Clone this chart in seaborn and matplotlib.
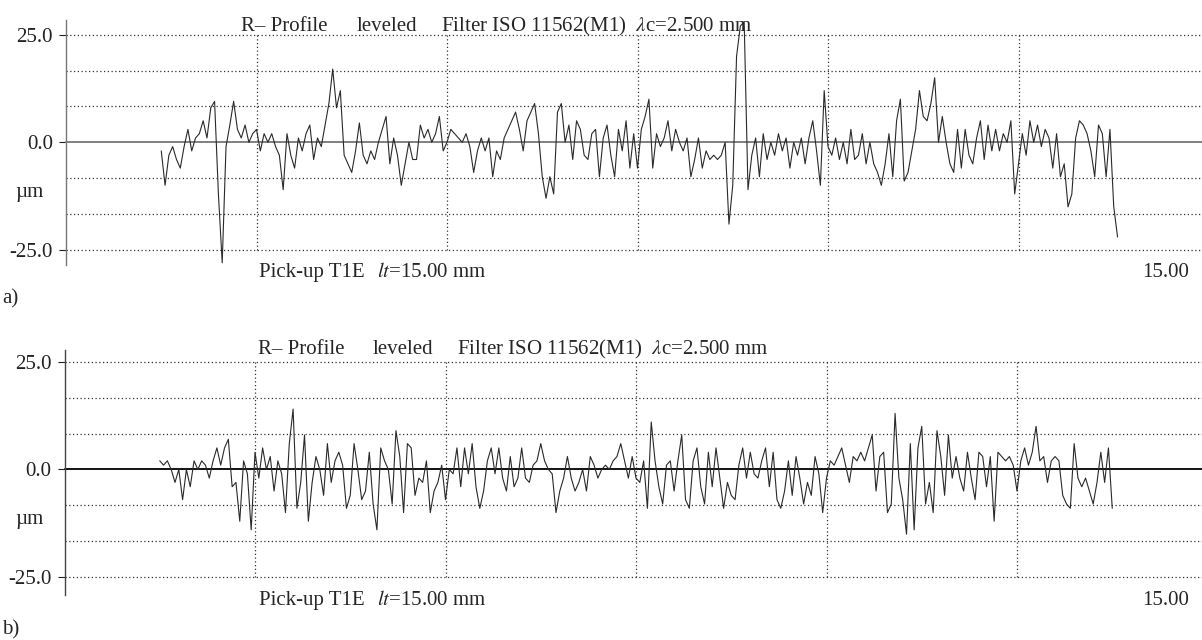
import numpy as np
import matplotlib.pyplot as plt
import seaborn as sns

# R-profile heights in micrometres, sampled every 0.05 mm from 1.25 mm
profile_a = [
    -2, -10, -3, -1, -4, -6, -1, 3, -2, 1,
    2, 5, 1, 8, 9.5, -12, -28, -1, 4, 9.5,
    3, 1, 4, 0, 2, 3, -2, 2, 0, 2,
    -1, -3, -11, 2, -3, -6, 1, -2, 2, 4,
    -4, 1, -1, 4, 9, 17, 8, 12, -3, -5,
    -7, -2, 4.5, -3, -5, -2, -4, 0, 3, 6,
    -5, 1, -3, -10, -5, 0, -4, -4, 4, 1,
    3, 0, 2, 6, -2, 0, 3, 2, 1, 0,
    2, -1, -7, -2, 1, -2, 1, -8, -2, -4,
    1, 3, 5, 7, 3, -2, 5, 7, 9, 2,
    -8, -13, -8, -12, 7, 9, 0, 4, -4, 5,
    3, -3, -4, 2, 3, -8, 1, 4, -3, -8,
    3, -2, 5, -6, 2, -6, 3, 6, 10, -6,
    2, -1, 1, 5, -2, 3, 0, -2, 1, -8,
    -4, 1, -6, -2, -4, -3, -4, -3, 0, -19,
    -10, 20, 27, 28, -11, -3, 1, -8, 2, -4,
    0, -3, 2, -2, 1, -6, 0, -3, 1, -5,
    1, 5, -2, -10, 12, -1, -3, 1, -4, 0,
    -5, 3, -4, -3, 2, -5, 0, -5, -7, -10,
    -5, 2, -8, 5, 10, -9, -7, -2, 3, 12,
    6, 5, 9, 15, 0, 6, 0, -5, -7, 3,
    -6, 3, -3, -5, 1, 5, -4, 4, -2, 3,
    -2, 2, 0, 5, -12, -5, 2, -3, 5, 0,
    4, -1, 3, 1, -6, 2, -8, -5, -15, -12,
    1, 5, 4, 2, -2, -8, 4, 2, -8, 3,
    -15, -22,
]

profile_b = [
    2, 1, 2, 0, -3, 0, -7, 0, -4, 2,
    0, 2, 1, -2, 2, 5, 1, 5, 7, -4,
    -3, -12, 2, -1, -14, 4, -2, 5, 0, 3,
    -5, 2, -1, -10, 6, 14, -9, -3, 8, -12,
    -3, 3, 0, -6, 6, -3, 2, 4, 1, -9,
    -6, 6, 0, -7, -5, 4, -8, -14, 5, 2,
    0, -8, 9, 3, -10, 6, 5, -6, -2, -3,
    2, -10, -5, -3, 1, -7, 0, -1, 5, -4,
    5, -1, 6, -4, -9, -5, 2, 5, -1, 5,
    -2, -5, 3, -4, -2, 5, -2, -3, 1, 2,
    6, 2, 0, -1, -10, -5, -2, 3, -2, -5,
    -3, 0, -5, 3, 1, -2, 0, 1, 0, 2,
    3, 6, 2, -2, 3, -2, -3, 2, -9, 11,
    2, -4, -8, 1, 2, -5, 2, 8, -7, -9,
    2, 5, -4, -8, 4, -4, 5, -2, -9, -3,
    -6, -7, 1, 5, -2, 4, -1, -2, 2, 5,
    -4, 4, -7, -9, -5, 2, -6, 3, -2, -8,
    -3, -6, 3, -1, -10, -2, 2, 1, 3, 5,
    1, -3, 3, 2, 4, 2, 5, 8, -5, 3,
    4, -10, -8, 13, -2, -7, -15, 6, -14, 5,
    10, -8, -3, -10, 9, 3, -6, 8, -2, 3,
    -2, -5, 4, -2, -7, 4, 3, -4, 3, -12,
    4, 3, 2, 3, 1, -5, 2, 5, 1, 4,
    10, 2, 3, -3, 2, 3, 2, -6, -8, -9,
    6, -2, -4, -2, -5, -8, -3, 4, -3, 5,
    -9,
]

x_start = 1.25
x_step = 0.05
length_mm = 15.0
y_ticks = [-25.0, 0.0, 25.0]
grid_x = [2.5, 5.0, 7.5, 10.0, 12.5]
grid_y = [-25.0, -50 / 3, -25 / 3, 25 / 3, 50 / 3, 25.0]

sns.set_style("white")
plt.rcParams['font.family'] = ['Liberation Serif', 'DejaVu Serif']
plt.rcParams['mathtext.fontset'] = 'stix'

W, H = 1202, 640
FS = 15
fig = plt.figure(figsize=(W / 100, H / 100), dpi=100)


def ftext(px, py, s, **kw):
    fig.text(px / W, 1 - py / H, s, fontsize=FS, va='baseline', **kw)


def draw_panel(left_px, top_px, ylim, values, line_col, zero_col, spine_col):
    ax = fig.add_axes([left_px / W, 1 - (top_px + 245) / H,
                       length_mm * 76.2 / W, 245 / H])
    x = x_start + x_step * np.arange(len(values))
    # grid: dotted, limited to the +-25 band vertically
    ax.hlines(grid_y, 0, length_mm, colors='#333333', linestyles=(0, (1, 2)),
              linewidth=0.9, zorder=1)
    ax.vlines(grid_x, -25, 25, colors='#333333', linestyles=(0, (1, 2)),
              linewidth=0.9, zorder=1)
    ax.axhline(0, color=zero_col, linewidth=1.4, zorder=2)
    sns.lineplot(x=x, y=values, ax=ax, color=line_col, linewidth=0.8,
                 errorbar=None, sort=False, zorder=3)
    for ln in ax.lines:
        ln.set_clip_on(False)
    ax.set_xlim(0, length_mm)
    ax.set_ylim(*ylim)
    ax.set_yticks(y_ticks)
    ax.set_yticklabels(['-25.0', '0.0', '25.0'], fontsize=FS)
    ax.set_xticks([])
    ax.tick_params(axis='y', direction='out', length=5, width=0.8,
                   pad=4.5, colors='#222222', left=True)
    for side in ['top', 'right', 'bottom']:
        ax.spines[side].set_visible(False)
    ax.spines['left'].set_color(spine_col)
    ax.spines['left'].set_linewidth(1.0)
    ax.set_xlabel('')
    ax.set_ylabel('')
    return ax


# panel a
draw_panel(66, 20, (-28.5, 28.4), profile_a, '#2a2a2a', '#808080', '#777777')
ftext(241, 31, 'R– Profile')
ftext(357, 31, 'leveled')
ftext(441, 31, r'Filter ISO 11562(M1)  $\lambda$c=2.500 mm')
ftext(15, 197, 'µm')
ftext(259, 277, 'Pick-up T1E')
ftext(377, 277, r'$lt$=15.00 mm')
ftext(1142, 277, '15.00')
ftext(2, 303, 'a)')

# panel b
draw_panel(64.5, 350, (-29.1, 27.7), profile_b, '#2a2a2a', '#111111', '#444444')
ftext(258, 354, 'R– Profile')
ftext(373, 354, 'leveled')
ftext(457, 354, r'Filter ISO 11562(M1)  $\lambda$c=2.500 mm')
ftext(15, 524, 'µm')
ftext(259, 605, 'Pick-up T1E')
ftext(377, 605, r'$lt$=15.00 mm')
ftext(1142, 605, '15.00')
ftext(2, 634, 'b)')

fig.savefig('out.png', dpi=100)
